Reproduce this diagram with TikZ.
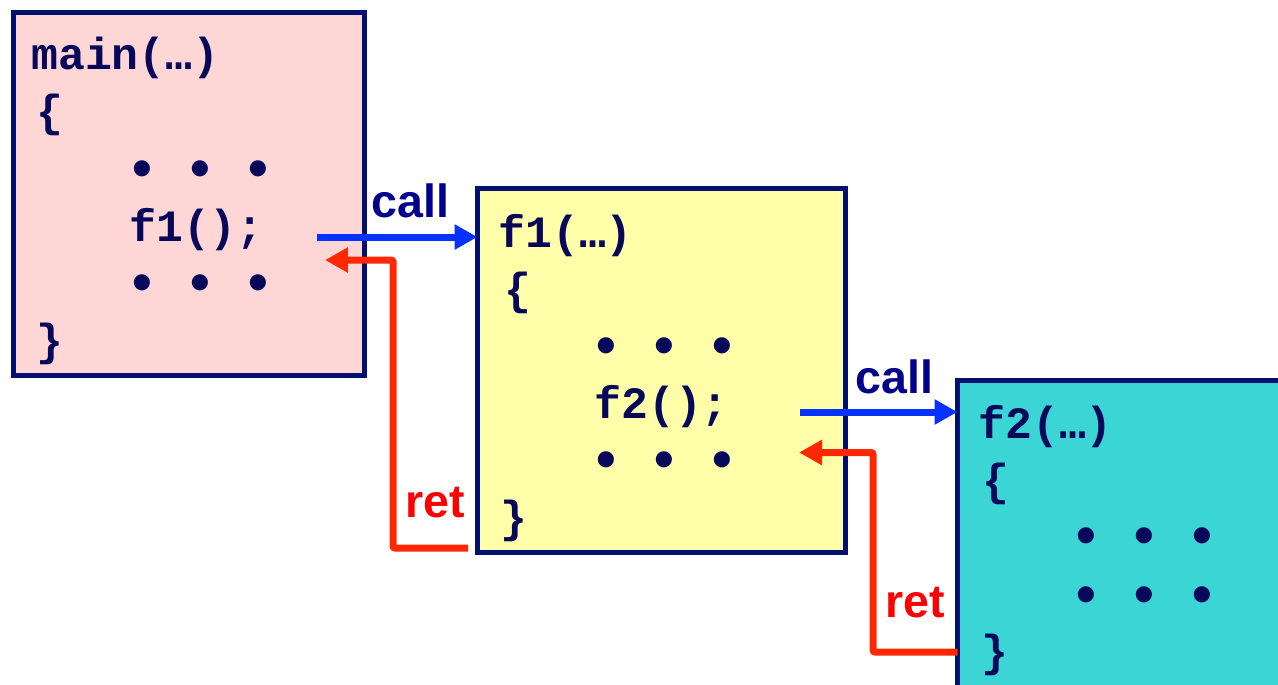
\documentclass[tikz,border=0pt]{standalone}
\usepackage{fontspec}
\setmainfont{Liberation Sans}
\setsansfont{Liberation Sans}
\setmonofont{Liberation Mono}
\usetikzlibrary{arrows.meta}
\definecolor{navy}{RGB}{0,16,112}
\definecolor{codecol}{RGB}{8,8,90}
\definecolor{labelblue}{RGB}{0,0,140}
\definecolor{pinkfill}{RGB}{255,214,214}
\definecolor{yellowfill}{RGB}{255,255,170}
\definecolor{tealfill}{RGB}{59,213,213}
\definecolor{callblue}{RGB}{5,50,255}
\definecolor{retred}{RGB}{255,40,0}
\definecolor{retlabel}{RGB}{255,0,0}
\tikzset{
  framebox/.style={draw=navy, line width=0.1cm, inner sep=0, outer sep=0, anchor=north west},
  code/.style={anchor=base west, inner sep=0, text=codecol, font=\fontsize{25.5}{30}\selectfont\ttfamily\bfseries},
  dotsrow/.style={anchor=base west, inner sep=0, text=codecol, font=\fontsize{32}{36}\selectfont\ttfamily\bfseries},
  lbl/.style={anchor=base west, inner sep=0, font=\fontsize{26.5}{30}\selectfont\sffamily\bfseries},
  callarrow/.style={draw=callblue, line width=0.14cm, -{Triangle[length=0.46cm,width=0.48cm]}},
  retarrow/.style={draw=retred, line width=0.14cm, rounded corners=0.04cm, -{Triangle[length=0.46cm,width=0.48cm]}},
}
\newcommand{\dotrow}{\textbullet\hspace{0.486cm}\textbullet\hspace{0.486cm}\textbullet}
\begin{document}
\begin{tikzpicture}[x=0.02cm,y=-0.02cm]
\useasboundingbox (0,0) rectangle (1278,684);
\clip (0,0) rectangle (1278,684);
% boxes
\node[framebox, fill=pinkfill, minimum width=7.03cm, minimum height=7.26cm] (mainbox) at (13.5,12.5) {};
\node[framebox, fill=yellowfill, minimum width=7.36cm, minimum height=7.29cm] (f1box) at (477.5,188) {};
\node[framebox, fill=tealfill, minimum width=7.2cm, minimum height=6.8cm] (f2box) at (957.5,380.5) {};
% main code
\node[code] (m1) at (31,69) {main(…)};
\node[code] (m2) at (36,126) {\{};
\node[dotsrow] (m3) at (125,187) {\dotrow};
\node[code] (m4) at (129,241) {f1();};
\node[dotsrow] (m5) at (125,301) {\dotrow};
\node[code] (m6) at (36,355) {\}};
% f1 code
\node[code] (a1) at (498,247) {f1(…)};
\node[code] (a2) at (504,304) {\{};
\node[dotsrow] (a3) at (589,364) {\dotrow};
\node[code] (a4) at (594,418) {f2();};
\node[dotsrow] (a5) at (589,478) {\dotrow};
\node[code] (a6) at (500,532) {\}};
% f2 code
\node[code] (b1) at (978,438) {f2(…)};
\node[code] (b2) at (982,495) {\{};
\node[dotsrow] (b3) at (1069,554) {\dotrow};
\node[dotsrow] (b4) at (1069,613) {\dotrow};
\node[code] (b5) at (981,666) {\}};
% arrow coordinates
\coordinate (c1s) at (317,237);
\coordinate (r1e) at (325,260);
\coordinate (r1s) at (468,548);
\coordinate (c2s) at (800,412);
\coordinate (r2e) at (799,452.5);
% call / ret arrows
\draw[callarrow] (c1s) -- (c1s -| f1box.west);
\draw[retarrow] (r1s) -- (393,548) -- (393,260) -- (r1e);
\draw[callarrow] (c2s) -- (c2s -| f2box.west);
\draw[retarrow] (f2box.west |- 0,652) -- (873,652) -- (873,452.5) -- (r2e);
% labels
\node[lbl, text=labelblue] (l1) at (371,217) {call};
\node[lbl, text=retlabel] (l2) at (405,517) {ret};
\node[lbl, text=labelblue] (l3) at (855,393) {call};
\node[lbl, text=retlabel] (l4) at (885,617) {ret};
\end{tikzpicture}
\end{document}
